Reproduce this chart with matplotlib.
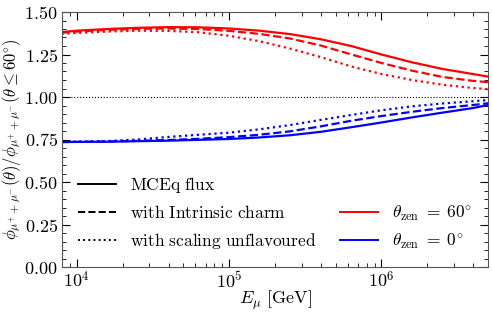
import numpy as np
import matplotlib
matplotlib.use("Agg")
import matplotlib.pyplot as plt
from matplotlib.ticker import MultipleLocator, FuncFormatter, LogLocator
from matplotlib.lines import Line2D

plt.rcParams["mathtext.fontset"] = "cm"
plt.rcParams["font.family"] = "serif"
plt.rcParams["font.serif"] = ["DejaVu Serif"]

# log10 of muon energy in GeV
log_energy = [3.9, 4.0, 4.2, 4.4, 4.6, 4.8, 5.0, 5.2, 5.4, 5.6, 5.8, 6.0, 6.2, 6.4, 6.6, 6.7]

# theta_zen = 60 deg
red_mceq = [1.382, 1.390, 1.400, 1.407, 1.411, 1.410, 1.403, 1.390, 1.370, 1.340, 1.300, 1.250, 1.204, 1.165, 1.135, 1.120]
red_charm = [1.378, 1.385, 1.395, 1.401, 1.403, 1.400, 1.389, 1.371, 1.344, 1.303, 1.251, 1.200, 1.155, 1.118, 1.095, 1.087]
red_scaling = [1.372, 1.377, 1.385, 1.390, 1.389, 1.381, 1.360, 1.328, 1.285, 1.235, 1.180, 1.135, 1.100, 1.072, 1.053, 1.046]

# theta_zen = 0 deg
blue_mceq = [0.735, 0.736, 0.737, 0.740, 0.743, 0.748, 0.753, 0.762, 0.775, 0.795, 0.822, 0.850, 0.880, 0.908, 0.935, 0.953]
blue_charm = [0.735, 0.736, 0.738, 0.742, 0.747, 0.754, 0.764, 0.778, 0.798, 0.827, 0.860, 0.888, 0.913, 0.935, 0.953, 0.963]
blue_scaling = [0.735, 0.737, 0.741, 0.750, 0.765, 0.778, 0.790, 0.810, 0.835, 0.865, 0.894, 0.922, 0.945, 0.962, 0.975, 0.982]

energy = 10 ** np.array(log_energy)

fig = plt.figure(figsize=(4.93, 3.13), dpi=100)
ax = fig.add_axes([62 / 493, 46 / 313, 426 / 493, 255 / 313])

lw = 1.6
ax.plot(energy, red_mceq, color="red", ls="-", lw=lw)
ax.plot(energy, red_charm, color="red", ls="--", lw=lw)
ax.plot(energy, red_scaling, color="red", ls=":", lw=lw)
ax.plot(energy, blue_mceq, color="blue", ls="-", lw=lw)
ax.plot(energy, blue_charm, color="blue", ls="--", lw=lw)
ax.plot(energy, blue_scaling, color="blue", ls=":", lw=lw)
ax.axhline(1.0, color="black", ls=":", lw=0.8)

ax.set_xscale("log")
ax.set_xlim(8e3, 5e6)
ax.set_ylim(0, 1.5)
ax.yaxis.set_major_locator(MultipleLocator(0.25))
ax.yaxis.set_minor_locator(MultipleLocator(0.05))
ax.yaxis.set_major_formatter(FuncFormatter(lambda v, p: "$%.2f$" % v))
ax.xaxis.set_major_locator(LogLocator(base=10))
ax.xaxis.set_minor_locator(LogLocator(base=10, subs=np.arange(2, 10)))
ax.xaxis.set_major_formatter(FuncFormatter(lambda v, p: "$10^{%d}$" % round(np.log10(v))))
ax.tick_params(which="both", direction="in", top=True, right=True, labelsize=13)
ax.tick_params(which="major", length=6, pad=3)
ax.tick_params(which="minor", length=3)
for s in ax.spines.values():
    s.set_color("#555555")

ax.set_xlabel(r"$E_\mu\ [\mathrm{GeV}]$", fontsize=13, labelpad=-2)
ax.set_ylabel(r"$\phi_{\mu^{+}+\mu^{-}}(\theta)/\phi_{\mu^{+}+\mu^{-}}(\theta \leq 60^{\circ})$",
              fontsize=12, labelpad=1)

style_handles = [Line2D([], [], color="black", ls="-", lw=1.4),
                 Line2D([], [], color="black", ls="--", lw=1.4),
                 Line2D([], [], color="black", ls=":", lw=1.4)]
style_labels = [r"$\mathrm{MCEq\ flux}$", r"$\mathrm{with\ Intrinsic\ charm}$",
                r"$\mathrm{with\ scaling\ unflavoured}$"]
leg1 = ax.legend(style_handles, style_labels, loc="lower left", frameon=False,
                 fontsize=12.5, bbox_to_anchor=(0.0, 0.0), handlelength=2.2,
                 labelspacing=0.55)
ax.add_artist(leg1)

zen_handles = [Line2D([], [], color="red", lw=1.4), Line2D([], [], color="blue", lw=1.4)]
zen_labels = [r"$\theta_{\mathrm{zen}}\;=\;60^{\circ}$", r"$\theta_{\mathrm{zen}}\;=\;0^{\circ}$"]
ax.legend(zen_handles, zen_labels, loc="lower right", frameon=False, fontsize=12.5,
          bbox_to_anchor=(1.0, 0.0), handlelength=2.2, labelspacing=0.55)

fig.savefig("out.png", dpi=100)
